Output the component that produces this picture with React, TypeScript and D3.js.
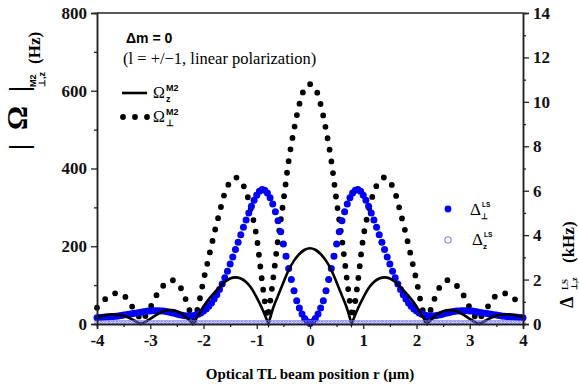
import React, { useEffect, useRef } from 'react'
import * as d3 from 'd3'

const W = 579, H = 390
const serif = '"Liberation Serif", "Times New Roman", serif'
const sans = '"Liberation Sans", Arial, sans-serif'

const xTicks = [-4, -3, -2, -1, 0, 1, 2, 3, 4]
const xMinor = [-3.5, -2.5, -1.5, -0.5, 0.5, 1.5, 2.5, 3.5]
const leftTicks = [0, 200, 400, 600, 800]
const leftMinor = [100, 300, 500, 700]
const rightTicks = [0, 2, 4, 6, 8, 10, 12, 14]
const rightMinor = [1, 3, 5, 7, 9, 11, 13]

// Omega_z^M2 (Hz), solid line
const rOmegaZ = [-4, -3.9, -3.8, -3.7, -3.6, -3.5, -3.4, -3.3, -3.18, -3.1, -3, -2.9, -2.8, -2.7, -2.6, -2.5, -2.4, -2.3, -2.2, -2.1, -2, -1.9, -1.8, -1.7, -1.6, -1.5, -1.4, -1.3, -1.2, -1.1, -1, -0.9, -0.78, -0.7, -0.6, -0.5, -0.4, -0.3, -0.2, -0.1,
  0, 0.1, 0.2, 0.3, 0.4, 0.5, 0.6, 0.7, 0.78, 0.9, 1, 1.1, 1.2, 1.3, 1.4, 1.5, 1.6, 1.7, 1.8, 1.9, 2, 2.1, 2.2, 2.3, 2.4, 2.5, 2.6, 2.7, 2.8, 2.9, 3, 3.1, 3.18, 3.3, 3.4, 3.5, 3.6, 3.7, 3.8, 3.9, 4]
const omegaZ = [18, 21, 24, 25, 24, 21, 16, 9, 0, 5, 13, 22, 30, 35, 36, 33, 26, 14, 0, 22, 45, 64, 80, 95, 108, 117, 120, 117, 108, 92, 68, 40, 0, 38, 73, 107, 139, 163, 180, 191,
  195, 191, 180, 163, 139, 107, 73, 38, 0, 40, 68, 92, 108, 117, 120, 117, 108, 95, 80, 64, 45, 22, 0, 14, 26, 33, 36, 35, 30, 22, 13, 5, 0, 9, 16, 21, 24, 25, 24, 21, 18]

// Omega_perp^M2 (Hz), dotted line
const rOmegaPerp = [-4, -3.9, -3.8, -3.7, -3.6, -3.5, -3.4, -3.3, -3.15, -3, -2.9, -2.8, -2.7, -2.6, -2.5, -2.4, -2.3, -2.26, -2.18, -2.1, -2, -1.9, -1.8, -1.7, -1.6, -1.5, -1.4, -1.3, -1.2, -1.1, -1, -0.9, -0.85, -0.8, -0.75, -0.7, -0.6, -0.5, -0.4, -0.3, -0.2, -0.1,
  0, 0.1, 0.2, 0.3, 0.4, 0.5, 0.6, 0.7, 0.75, 0.8, 0.85, 0.9, 1, 1.1, 1.2, 1.3, 1.4, 1.5, 1.6, 1.7, 1.8, 1.9, 2, 2.1, 2.18, 2.26, 2.3, 2.4, 2.5, 2.6, 2.7, 2.8, 2.9, 3, 3.15, 3.3, 3.4, 3.5, 3.6, 3.7, 3.8, 3.9, 4]
const omegaPerp = [42, 56, 70, 77, 80, 74, 58, 36, 8, 42, 70, 91, 106, 113, 106, 86, 50, 34, 8, 45, 112, 172, 232, 286, 337, 366, 377, 367, 340, 290, 222, 110, 58, 15, 55, 108, 218, 315, 420, 500, 565, 606,
  617, 606, 565, 500, 420, 315, 218, 108, 55, 15, 58, 110, 222, 290, 340, 367, 377, 366, 337, 286, 232, 172, 112, 45, 8, 34, 50, 86, 106, 113, 106, 91, 70, 42, 8, 36, 58, 74, 80, 77, 70, 56, 42]

// Delta_perp^LS (kHz), filled circles, r = -4 .. 4 every 0.05
const deltaPerp = [0.28, 0.29, 0.3, 0.31, 0.32, 0.33, 0.34, 0.35, 0.36, 0.38,
  0.4, 0.42, 0.44, 0.46, 0.48, 0.5, 0.52, 0.54, 0.56, 0.58,
  0.59, 0.6, 0.6, 0.6, 0.59, 0.58, 0.56, 0.54, 0.51, 0.48,
  0.45, 0.42, 0.39, 0.37, 0.36, 0.36, 0.37, 0.4, 0.44, 0.5,
  0.58, 0.68, 0.8, 0.95, 1.12, 1.32, 1.55, 1.8, 2.08, 2.38,
  2.7, 3.02, 3.35, 3.68, 4.02, 4.35, 4.68, 5.0, 5.3, 5.57,
  5.8, 5.98, 6.05, 6.02, 5.9, 5.68, 5.4, 5.05, 4.65, 4.15,
  3.6, 3.05, 2.5, 2.0, 1.5, 1.05, 0.72, 0.45, 0.25, 0.1,
  0.02,
  0.1, 0.25, 0.45, 0.72, 1.05, 1.5, 2.0, 2.5, 3.05, 3.6,
  4.15, 4.65, 5.05, 5.4, 5.68, 5.9, 6.02, 6.05, 5.98, 5.8,
  5.57, 5.3, 5.0, 4.68, 4.35, 4.02, 3.68, 3.35, 3.02, 2.7,
  2.38, 2.08, 1.8, 1.55, 1.32, 1.12, 0.95, 0.8, 0.68, 0.58,
  0.5, 0.44, 0.4, 0.37, 0.36, 0.36, 0.37, 0.39, 0.42, 0.45,
  0.48, 0.51, 0.54, 0.56, 0.58, 0.59, 0.6, 0.6, 0.6, 0.59,
  0.58, 0.56, 0.54, 0.52, 0.5, 0.48, 0.46, 0.44, 0.42, 0.4,
  0.38, 0.36, 0.35, 0.34, 0.33, 0.32, 0.31, 0.3, 0.29, 0.28]

// Delta_z^LS (kHz), open circles, same r grid
const deltaZ = [0.06, 0.06, 0.06, 0.06, 0.06, 0.06, 0.06, 0.06, 0.06, 0.06,
  0.06, 0.06, 0.06, 0.06, 0.06, 0.06, 0.06, 0.06, 0.06, 0.06,
  0.06, 0.06, 0.06, 0.06, 0.06, 0.06, 0.06, 0.06, 0.06, 0.06,
  0.06, 0.06, 0.06, 0.06, 0.06, 0.06, 0.06, 0.06, 0.06, 0.06,
  0.06, 0.06, 0.06, 0.06, 0.06, 0.06, 0.06, 0.06, 0.06, 0.06,
  0.06, 0.06, 0.06, 0.06, 0.06, 0.06, 0.06, 0.06, 0.06, 0.06,
  0.06, 0.06, 0.06, 0.06, 0.06, 0.06, 0.06, 0.06, 0.06, 0.06,
  0.06, 0.06, 0.06, 0.06, 0.06, 0.06, 0.06, 0.06, 0.06, 0.06,
  0.06,
  0.06, 0.06, 0.06, 0.06, 0.06, 0.06, 0.06, 0.06, 0.06, 0.06,
  0.06, 0.06, 0.06, 0.06, 0.06, 0.06, 0.06, 0.06, 0.06, 0.06,
  0.06, 0.06, 0.06, 0.06, 0.06, 0.06, 0.06, 0.06, 0.06, 0.06,
  0.06, 0.06, 0.06, 0.06, 0.06, 0.06, 0.06, 0.06, 0.06, 0.06,
  0.06, 0.06, 0.06, 0.06, 0.06, 0.06, 0.06, 0.06, 0.06, 0.06,
  0.06, 0.06, 0.06, 0.06, 0.06, 0.06, 0.06, 0.06, 0.06, 0.06,
  0.06, 0.06, 0.06, 0.06, 0.06, 0.06, 0.06, 0.06, 0.06, 0.06,
  0.06, 0.06, 0.06, 0.06, 0.06, 0.06, 0.06, 0.06, 0.06, 0.06]

const rGrid = deltaPerp.map((_, i) => -4 + i * 0.05)

export default function App(){
  const svgRef = useRef(null)

  useEffect(()=>{
    const m = {top:13, right:523, bottom:324, left:97}
    const svg = d3.select(svgRef.current)
    svg.selectAll('*').remove()
    const x = d3.scaleLinear().domain([-4,4]).range([m.left,m.right])
    const yL = d3.scaleLinear().domain([0,800]).range([m.bottom,m.top])
    const yR = d3.scaleLinear().domain([0,14]).range([m.bottom,m.top])
    const axisColor = '#222'
    const blue = '#0000f8'

    // split a series at its minima so each lobe keeps a sharp V
    const lobePath = (rs, vs) => {
      const pts = rs.map((r,i)=>[x(r), yL(vs[i])])
      const line = d3.line().curve(d3.curveMonotoneX)
      let d = '', seg = [pts[0]]
      for (let i=1;i<pts.length;i++){
        seg.push(pts[i])
        const isMin = i<pts.length-1 && vs[i]<vs[i-1] && vs[i]<vs[i+1]
        if (isMin || i===pts.length-1){
          const s = line(seg)
          d += d ? s.replace(/^M[^A-Za-z]*/,'') : s
          seg = [pts[i]]
        }
      }
      return d
    }

    // Omega perp, dotted
    svg.append('path').attr('d', lobePath(rOmegaPerp, omegaPerp))
      .attr('fill','none').attr('stroke','#000').attr('stroke-width',5.8)
      .attr('stroke-linecap','round').attr('stroke-dasharray','0 11.7')

    // Delta perp, filled blue
    svg.append('g').selectAll('circle').data(deltaPerp).join('circle')
      .attr('cx',(d,i)=>x(rGrid[i])).attr('cy',d=>yR(d)).attr('r',3.5)
      .attr('fill',blue)

    // Omega z, solid
    svg.append('path').attr('d', lobePath(rOmegaZ, omegaZ))
      .attr('fill','none').attr('stroke','#000').attr('stroke-width',2.6)

    // Delta z, open circles
    svg.append('g').selectAll('circle').data(deltaZ).join('circle')
      .attr('cx',(d,i)=>x(rGrid[i])).attr('cy',d=>yR(d)).attr('r',2.2)
      .attr('fill','none').attr('stroke','#7272f6').attr('stroke-width',0.8)

    // axes
    const styleAxis = (g, size) => {
      g.attr('font-family',serif)
      g.selectAll('.domain').attr('stroke',axisColor).attr('stroke-width',1.5)
      g.selectAll('.tick line').attr('stroke',axisColor).attr('stroke-width',1.3)
      g.selectAll('text').attr('font-family',serif).attr('font-weight','bold').attr('font-size',size).attr('fill','#111')
    }
    const fmt = d => String(d)
    svg.append('g').attr('transform',`translate(0,${m.bottom})`)
      .call(d3.axisBottom(x).tickValues(xMinor).tickSize(3).tickFormat(()=>'')).call(g=>styleAxis(g,17))
    svg.append('g').attr('transform',`translate(0,${m.bottom})`)
      .call(d3.axisBottom(x).tickValues(xTicks).tickSize(5).tickPadding(5).tickFormat(fmt)).call(g=>styleAxis(g,17))
    svg.append('g').attr('transform',`translate(${m.left},0)`)
      .call(d3.axisLeft(yL).tickValues(leftMinor).tickSize(3).tickFormat(()=>'')).call(g=>styleAxis(g,17))
    svg.append('g').attr('transform',`translate(${m.left},0)`)
      .call(d3.axisLeft(yL).tickValues(leftTicks).tickSize(6).tickPadding(4).tickFormat(fmt)).call(g=>styleAxis(g,17))
    svg.append('g').attr('transform',`translate(${m.right},0)`)
      .call(d3.axisRight(yR).tickValues(rightMinor).tickSize(3).tickFormat(()=>'')).call(g=>styleAxis(g,17))
    svg.append('g').attr('transform',`translate(${m.right},0)`)
      .call(d3.axisRight(yR).tickValues(rightTicks).tickSize(6).tickPadding(4).tickFormat(fmt)).call(g=>styleAxis(g,17))
    svg.append('line').attr('x1',m.left).attr('x2',m.right).attr('y1',m.top).attr('y2',m.top)
      .attr('stroke',axisColor).attr('stroke-width',1.5)

    // x title
    svg.append('text').attr('x',(m.left+m.right)/2).attr('y',379).attr('text-anchor','middle')
      .attr('font-family',serif).attr('font-weight','bold').attr('font-size',15)
      .text('Optical TL beam position r (\u03bcm)')

    // left title, rotated
    const gl = svg.append('g').attr('transform','rotate(-90)')
    gl.append('text').attr('x',-150).attr('y',28).attr('font-family',serif).attr('font-weight','bold').attr('font-size',28).text('|')
    gl.append('text').attr('x',-118).attr('y',27).attr('text-anchor','middle').attr('font-family',serif).attr('font-weight','bold').attr('font-size',30).text('\u03a9')
    gl.append('text').attr('x',-92).attr('y',28).attr('font-family',serif).attr('font-weight','bold').attr('font-size',28).text('|')
    gl.append('text').attr('x',-87).attr('y',36).attr('font-family',sans).attr('font-weight','bold').attr('font-size',9).text('M2')
    gl.append('text').attr('x',-87).attr('y',45).attr('font-family',sans).attr('font-weight','bold').attr('font-size',9).text('\u22a5,z')
    gl.append('text').attr('x',-64).attr('y',40).attr('font-family',serif).attr('font-weight','bold').attr('font-size',17).text('(Hz)')

    // right title, rotated
    const gr = svg.append('g').attr('transform','rotate(-90)')
    gr.append('text').attr('x',-308).attr('y',573).attr('font-family',serif).attr('font-weight','bold').attr('font-size',18).text('\u0394')
    gr.append('text').attr('x',-290).attr('y',568).attr('font-family',serif).attr('font-weight','bold').attr('font-size',9).text('LS')
    gr.append('text').attr('x',-290).attr('y',577).attr('font-family',serif).attr('font-weight','bold').attr('font-size',8).text('\u22a5,z')
    gr.append('text').attr('x',-263).attr('y',574).attr('font-family',serif).attr('font-weight','bold').attr('font-size',17).text('(kHz)')

    // annotations
    svg.append('text').attr('x',126).attr('y',43).attr('font-family',sans).attr('font-weight','bold').attr('font-size',14).text('\u0394m = 0')
    svg.append('text').attr('x',123).attr('y',64).attr('font-family',serif).attr('font-size',16.5).text('(l = +/\u22121, linear polarization)')

    // legend left
    svg.append('line').attr('x1',122).attr('x2',147).attr('y1',93).attr('y2',93).attr('stroke','#000').attr('stroke-width',2.6)
    svg.append('g').selectAll('circle').data([123,135,147]).join('circle')
      .attr('cx',d=>d).attr('cy',117).attr('r',2.9).attr('fill','#000')
    const omegaLabel = (y, sub) => {
      svg.append('text').attr('x',153).attr('y',y).attr('font-family',serif).attr('font-size',16).text('\u03a9')
      svg.append('text').attr('x',166).attr('y',y-7).attr('font-family',sans).attr('font-weight','bold').attr('font-size',9).text('M2')
      svg.append('text').attr('x',166).attr('y',y+4).attr('font-family',sans).attr('font-weight','bold').attr('font-size',9).text(sub)
    }
    omegaLabel(98,'z')
    omegaLabel(122,'\u22a5')

    // legend right
    svg.append('circle').attr('cx',448).attr('cy',209).attr('r',3.4).attr('fill',blue)
    svg.append('circle').attr('cx',448).attr('cy',240).attr('r',3.3).attr('fill','none').attr('stroke','#7272f6').attr('stroke-width',1)
    const deltaLabel = (xx, y, sub) => {
      svg.append('text').attr('x',xx).attr('y',y).attr('font-family',serif).attr('font-size',17).text('\u0394')
      svg.append('text').attr('x',xx+12).attr('y',y-8).attr('font-family',sans).attr('font-weight','bold').attr('font-size',6.5).text('LS')
      svg.append('text').attr('x',xx+11).attr('y',y+4).attr('font-family',sans).attr('font-weight','bold').attr('font-size',8).text(sub)
    }
    deltaLabel(470, 215, '\u22a5')
    deltaLabel(472, 245, 'z')
  },[])

  return <svg ref={svgRef} width={W} height={H} style={{position:'absolute', left:0, top:0, background:'#fff'}} />
}
